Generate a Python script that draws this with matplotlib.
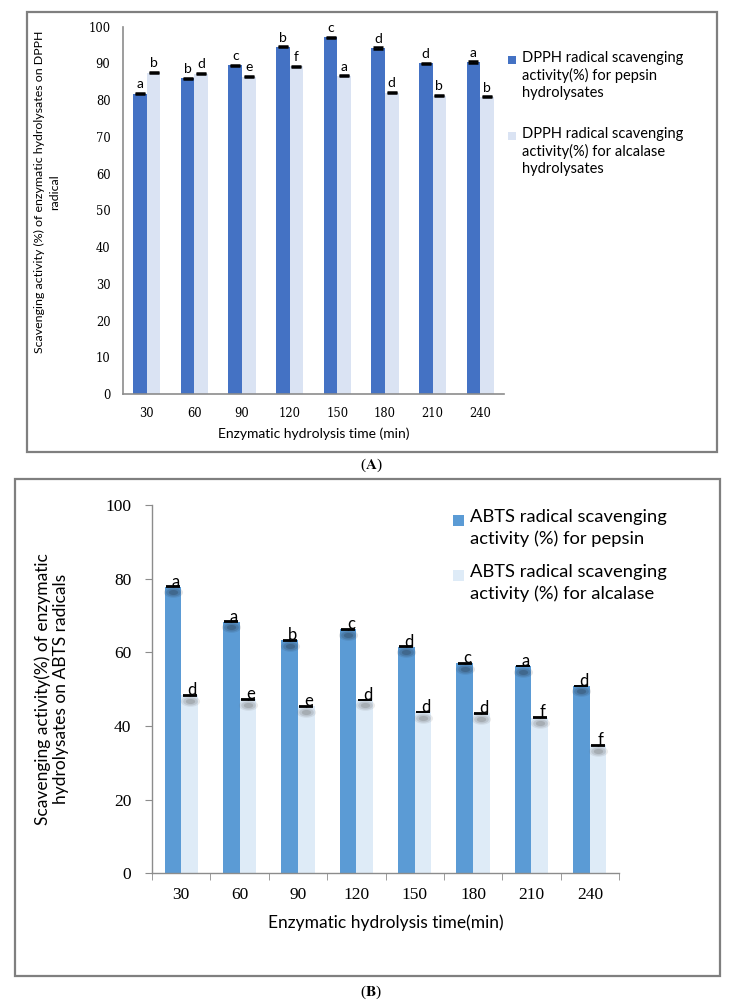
import numpy as np
import matplotlib
matplotlib.use("Agg")
import matplotlib.pyplot as plt
from matplotlib.patches import Rectangle

# data
times = ["30", "60", "90", "120", "150", "180", "210", "240"]

dpph_pepsin = [81.8, 85.9, 89.5, 94.5, 97.1, 94.2, 90.0, 90.4]
dpph_alcalase = [87.5, 87.2, 86.4, 89.2, 86.6, 82.0, 81.2, 80.9]
dpph_pepsin_err = [0.15, 0.15, 0.15, 0.15, 0.15, 0.15, 0.15, 0.15]
dpph_alcalase_err = [0.15, 0.15, 0.15, 0.15, 0.15, 0.15, 0.15, 0.15]
dpph_pepsin_letters = ["a", "b", "c", "b", "c", "d", "d", "a"]
dpph_alcalase_letters = ["b", "d", "e", "f", "a", "d", "b", "b"]
dpph_names = ["DPPH radical scavenging\nactivity(%) for pepsin\nhydrolysates",
              "DPPH radical scavenging\nactivity(%) for alcalase\nhydrolysates"]

abts_pepsin = [77.8, 68.3, 63.3, 66.3, 61.5, 57.0, 56.3, 50.9]
abts_alcalase = [48.3, 47.3, 45.4, 47.1, 43.8, 43.5, 42.3, 34.8]
abts_pepsin_err = [0.1, 0.1, 0.1, 0.1, 0.1, 0.1, 0.1, 0.1]
abts_alcalase_err = [0.1, 0.1, 0.1, 0.1, 0.1, 0.1, 0.1, 0.1]
abts_pepsin_letters = ["a", "a", "b", "c", "d", "c", "a", "d"]
abts_alcalase_letters = ["d", "e", "e", "d", "d", "d", "f", "f"]
abts_names = ["ABTS radical scavenging\nactivity (%) for pepsin",
              "ABTS radical scavenging\nactivity (%) for alcalase"]

SANS = ["Lato", "DejaVu Sans"]
SERIF_A = ["DejaVu Serif"]
SERIF_B = ["Liberation Serif", "DejaVu Serif"]
AXIS_GRAY = "#8c8c8c"
W, H = 743.0, 1005.0

fig = plt.figure(figsize=(W / 100, H / 100), dpi=100)

def fig_box(x0, y0, x1, y1):
    """pixel box (top-left origin) -> figure fraction rect"""
    return [x0 / W, 1 - y1 / H, (x1 - x0) / W, (y1 - y0) / H]

def fx(px):
    return px / W

def fy(py):
    return 1 - py / H

def side_legend(colors, names, sq, text_x, rows_y, size, spacing):
    """excel-like legend: square lined up with the first text line"""
    size_px = size * 100 / 72.0
    for c, name, y in zip(colors, names, rows_y):
        fig.patches.append(Rectangle((fx(text_x - 6 - sq), fy(y + sq / 2)), sq / W, sq / H,
                                     transform=fig.transFigure, facecolor=c, edgecolor="none"))
        fig.text(fx(text_x), fy(y - 0.62 * size_px), name, ha="left", va="top", family=SANS,
                 fontsize=size, linespacing=spacing, transform=fig.transFigure)

# outer frames round each panel
for box in [(27, 12, 717, 452), (15, 479, 720, 976)]:
    r = fig_box(*box)
    fig.patches.append(Rectangle((r[0], r[1]), r[2], r[3], transform=fig.transFigure,
                                 fill=False, edgecolor="#7f7f7f", linewidth=1.6))

x = np.arange(len(times))
w = 0.285

'''Panel A - DPPH'''
axA = fig.add_axes(fig_box(123, 26.7, 504, 394))
axA.bar(x - w / 2, dpph_pepsin, w, color="#4472C4")
axA.bar(x + w / 2, dpph_alcalase, w, color="#DAE3F3")
axA.errorbar(x - w / 2, dpph_pepsin, yerr=dpph_pepsin_err, fmt="none", ecolor="black",
             capsize=3.5, capthick=1.8, elinewidth=1)
axA.errorbar(x + w / 2, dpph_alcalase, yerr=dpph_alcalase_err, fmt="none", ecolor="black",
             capsize=3.5, capthick=1.8, elinewidth=1)
for i in range(len(times)):
    axA.annotate(dpph_pepsin_letters[i], (x[i] - w / 2, dpph_pepsin[i] + dpph_pepsin_err[i]),
                 xytext=(0, 2), textcoords="offset points", ha="center", va="bottom",
                 fontsize=10, family=SANS)
    axA.annotate(dpph_alcalase_letters[i], (x[i] + w / 2, dpph_alcalase[i] + dpph_alcalase_err[i]),
                 xytext=(0, 2), textcoords="offset points", ha="center", va="bottom",
                 fontsize=10, family=SANS)
axA.set_xlim(-0.5, len(times) - 0.5)
axA.set_ylim(0, 100)
axA.set_yticks(np.arange(0, 101, 10))
axA.set_xticks(x)
axA.set_xticklabels(times, family=SERIF_A, fontsize=8.3)
for t in axA.get_yticklabels():
    t.set_family(SERIF_A)
    t.set_fontsize(8.3)
axA.tick_params(axis="both", length=0, pad=9)
for s in ["top", "right"]:
    axA.spines[s].set_visible(False)
for s in ["left", "bottom"]:
    axA.spines[s].set_color(AXIS_GRAY)
    axA.spines[s].set_linewidth(1.2)
axA.set_xlabel("Enzymatic hydrolysis time (min)", family=SANS, fontsize=10, labelpad=6)
axA.set_ylabel("Scavenging activity (%) of enzymatic hydrolysates on DPPH\nradical",
               family=SANS, fontsize=8.9, linespacing=1.5)
axA.yaxis.set_label_coords(-0.165, 0.55)
side_legend(["#4472C4", "#DAE3F3"], dpph_names, 8, 522, [60, 136], 10.5, 1.28)

'''Panel B - ABTS'''
axB = fig.add_axes(fig_box(152, 505, 619, 873.4))
axB.bar(x - w / 2, abts_pepsin, w, color="#5B9BD5")
axB.bar(x + w / 2, abts_alcalase, w, color="#DEEBF7")

# soft dark blobs just under the bar tops
t = np.linspace(0, 2 * np.pi, 40)
ell = np.column_stack([np.cos(t), 0.55 * np.sin(t)])
for size, alpha in [(190, 0.12), (110, 0.18), (45, 0.25)]:
    axB.scatter(x - w / 2, np.array(abts_pepsin) - 1.5, s=size, marker=ell,
                color="#23303d", alpha=alpha, linewidths=0, zorder=3)
    axB.scatter(x + w / 2, np.array(abts_alcalase) - 1.5, s=size, marker=ell,
                color="#666666", alpha=alpha, linewidths=0, zorder=3)

axB.errorbar(x - w / 2, abts_pepsin, yerr=abts_pepsin_err, fmt="none", ecolor="black",
             capsize=5, capthick=1.3, elinewidth=1, zorder=4)
axB.errorbar(x + w / 2, abts_alcalase, yerr=abts_alcalase_err, fmt="none", ecolor="black",
             capsize=5, capthick=1.3, elinewidth=1, zorder=4)
for i in range(len(times)):
    axB.annotate(abts_pepsin_letters[i], (x[i] - w / 2, abts_pepsin[i]),
                 xytext=(2, -2), textcoords="offset points", ha="center", va="bottom",
                 fontsize=12, family=SANS, zorder=5)
    axB.annotate(abts_alcalase_letters[i], (x[i] + w / 2, abts_alcalase[i]),
                 xytext=(2, -2), textcoords="offset points", ha="center", va="bottom",
                 fontsize=12, family=SANS, zorder=5)
axB.set_xlim(-0.5, len(times) - 0.5)
axB.set_ylim(0, 100)
axB.set_yticks(np.arange(0, 101, 20))
axB.set_xticks(x)
axB.set_xticklabels(times, family=SERIF_B, fontsize=12.5)
for tl in axB.get_yticklabels():
    tl.set_family(SERIF_B)
    tl.set_fontsize(12.5)
axB.set_xticks(np.arange(len(times) + 1) - 0.5, minor=True)
axB.tick_params(axis="x", which="major", length=0, pad=10)
axB.tick_params(axis="x", which="minor", length=5, color=AXIS_GRAY, direction="out")
axB.tick_params(axis="y", length=5, color=AXIS_GRAY, pad=10)
for s in ["top", "right"]:
    axB.spines[s].set_visible(False)
for s in ["left", "bottom"]:
    axB.spines[s].set_color(AXIS_GRAY)
    axB.spines[s].set_linewidth(1.0)
axB.set_xlabel("Enzymatic hydrolysis time(min)", family=SANS, fontsize=12.5, labelpad=8)
axB.set_ylabel("Scavenging activity(%) of enzymatic\nhydrolysates on ABTS radicals",
               family=SANS, fontsize=12.5, labelpad=26, linespacing=1.15)
side_legend(["#5B9BD5", "#DEEBF7"], abts_names, 11, 470, [520, 575], 13.2, 1.4)

# panel captions
fig.text(fx(371), fy(465), r"($\mathbf{A}$)", ha="center", va="center",
         family=SERIF_B, fontsize=11, math_fontfamily="stix")
fig.text(fx(371), fy(992), r"($\mathbf{B}$)", ha="center", va="center",
         family=SERIF_B, fontsize=11, math_fontfamily="stix")

fig.savefig("out.png", dpi=100)
